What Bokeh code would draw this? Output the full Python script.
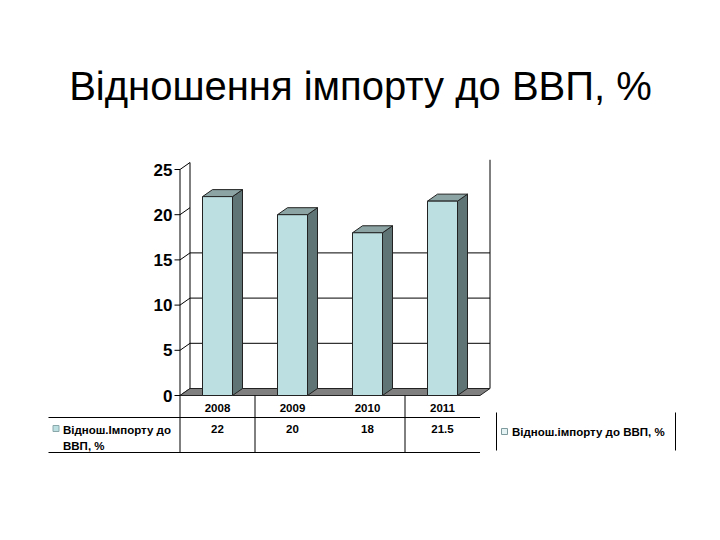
from bokeh.plotting import figure
from bokeh.models import Range1d
from bokeh.core.properties import value
from bokeh.embed import file_html
from bokeh.resources import INLINE

# ---- data ----
title_text = "Відношення імпорту до ВВП, %"
years = ["2008", "2009", "2010", "2011"]
values = [22, 20, 18, 21.5]
value_labels = ["22", "20", "18", "21.5"]
y_ticks = [0, 5, 10, 15, 20, 25]
y_tick_labels = ["0", "5", "10", "15", "20", "25"]
grid_levels = [5, 10, 15]
row_label = ["Віднош.Імпорту до", "ВВП, %"]
legend_label = "Віднош.імпорту до ВВП, %"

# ---- layout (page pixels -> data units) ----
PX_PER_CAT = 75.0
X0_PAGE = 217.0
Y0_PAGE = 395.0
PX_PER_UNIT = 9.04


def X(px):
    return (px - X0_PAGE) / PX_PER_CAT


def Y(py):
    return (Y0_PAGE - py) / PX_PER_UNIT


FONT = value("Liberation Sans")
FRONT = "#bcdfe2"
SIDE = "#5f7474"
TOP = "#8ca4a4"
FLOOR = "#7f7f7f"
EDGE = "#222222"

dx = 10.0 / PX_PER_CAT
dy = 7.0 / PX_PER_UNIT
half = 15.0 / PX_PER_CAT
n = len(years)
idx = list(range(n))
left = -0.5
right = n - 0.5
ymax = y_ticks[-1]

p = figure(width=704, height=524,
           x_range=Range1d(X(0), X(704)), y_range=Range1d(Y(524), Y(0)),
           output_backend="svg", toolbar_location=None,
           x_axis_location=None, y_axis_location=None, min_border=0)
p.grid.visible = False
p.outline_line_color = None
p.background_fill_color = "white"
p.border_fill_color = "white"

# title
p.text(x=[X(360)], y=[Y(85)], text=[title_text], text_align="center",
       text_baseline="alphabetic", text_font=FONT, text_font_size="40px",
       text_color="black")

# back wall grid lines
p.segment(x0=[left + dx] * len(grid_levels), x1=[right + dx] * len(grid_levels),
          y0=[g + dy for g in grid_levels], y1=[g + dy for g in grid_levels],
          line_color="black", line_width=1)
# wall verticals
p.segment(x0=[left + dx, right + dx, left], x1=[left + dx, right + dx, left],
          y0=[dy, dy, 0], y1=[ymax + dy, ymax + dy + 0.3, ymax],
          line_color="black", line_width=1)
# diagonals and tick marks on left wall
p.segment(x0=[left] * len(y_ticks), x1=[left + dx] * len(y_ticks),
          y0=y_ticks, y1=[t + dy for t in y_ticks], line_color="black", line_width=1)
p.segment(x0=[X(174)] * len(y_ticks), x1=[left] * len(y_ticks),
          y0=y_ticks, y1=y_ticks, line_color="black", line_width=1)

# floor
p.patch([left, right, right + dx, left + dx], [0, 0, dy, dy],
        fill_color=FLOOR, line_color=EDGE, line_width=1)

# bars (side, top, front)
side_xs = [[i + half, i + half + dx, i + half + dx, i + half] for i in idx]
side_ys = [[0, dy, v + dy, v] for v in values]
top_xs = [[i - half, i + half, i + half + dx, i - half + dx] for i in idx]
top_ys = [[v, v, v + dy, v + dy] for v in values]
p.patches(side_xs, side_ys, fill_color=SIDE, line_color=EDGE, line_width=1)
p.patches(top_xs, top_ys, fill_color=TOP, line_color=EDGE, line_width=1)
p.quad(left=[i - half for i in idx], right=[i + half for i in idx],
       bottom=[0] * n, top=values, fill_color=FRONT, line_color=EDGE, line_width=1)

# y tick labels
p.text(x=[X(172)] * len(y_ticks), y=y_ticks, text=y_tick_labels,
       text_align="right", text_baseline="middle", text_font=FONT,
       text_font_style="bold", text_font_size="17px", text_color="black")

# data table
p.segment(x0=[left, 0.5, 2.5], x1=[left, 0.5, 2.5],
          y0=[0, 0, 0], y1=[Y(452)] * 3, line_color="black", line_width=1)
p.segment(x0=[X(48), X(48)], x1=[right, right], y0=[Y(417), Y(452)],
          y1=[Y(417), Y(452)], line_color="black", line_width=1)
p.text(x=idx, y=[Y(407)] * n, text=years, text_align="center",
       text_baseline="middle", text_font=FONT, text_font_style="bold",
       text_font_size="11.5px", text_color="black")
p.text(x=idx, y=[Y(428.5)] * n, text=value_labels, text_align="center",
       text_baseline="middle", text_font=FONT, text_font_style="bold",
       text_font_size="11.5px", text_color="black")
p.scatter(x=[X(55.5)], y=[Y(428)], marker="square", size=6,
          fill_color=FRONT, line_color="#8aa8aa")
p.text(x=[X(62.5)] * 2, y=[Y(429), Y(445)], text=row_label, text_align="left",
       text_baseline="middle", text_font=FONT, text_font_style="bold",
       text_font_size="11.5px", text_color="black")

# legend box
p.segment(x0=[X(496), X(675)], x1=[X(496), X(675)], y0=[Y(412)] * 2,
          y1=[Y(450)] * 2, line_color="black", line_width=1)
p.scatter(x=[X(504)], y=[Y(431)], marker="square", size=6,
          fill_color="#e6f3f4", line_color="#7f9a9c")
p.text(x=[X(511.5)], y=[Y(431)], text=[legend_label], text_align="left",
       text_baseline="middle", text_font=FONT, text_font_style="bold",
       text_font_size="11.5px", text_color="black")

open("out.html", "w").write(file_html(p, INLINE))
